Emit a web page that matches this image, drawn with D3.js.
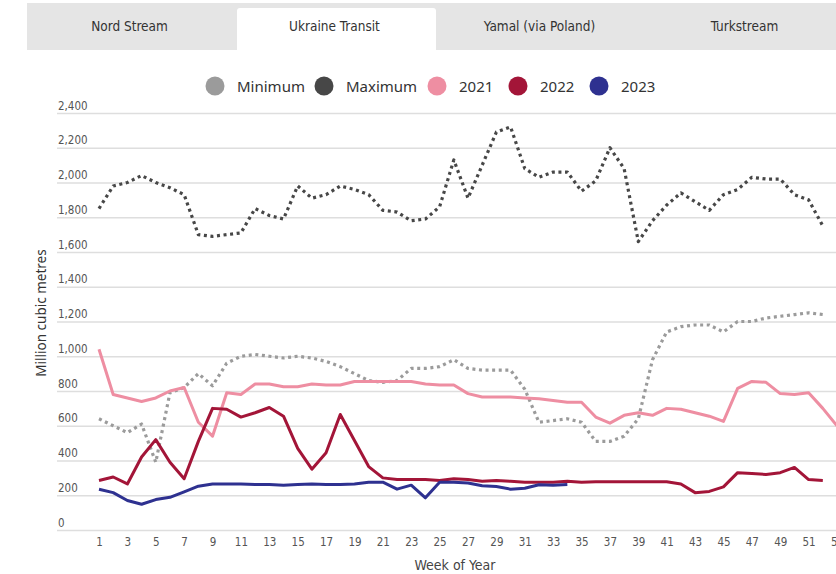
<!DOCTYPE html>
<html>
<head>
<meta charset="utf-8">
<script src="https://cdn.jsdelivr.net/npm/d3@7"></script>
<style>
  html, body { margin: 0; padding: 0; background: #fff; }
  svg { display: block; }
  .cond { font-family: "Liberation Sans Narrow", "DejaVu Sans Condensed", "Roboto Condensed", "Roboto", sans-serif; font-stretch: condensed; }
  .reg { font-family: "Noto Sans", "DejaVu Sans", sans-serif; }
</style>
</head>
<body>
<div id="chart"></div>
<script>
// ---- data ----
const tabs = ["Nord Stream", "Ukraine Transit", "Yamal (via Poland)", "Turkstream"];
const activeTab = "Ukraine Transit";
const seriesNames = ["Minimum", "Maximum", "2021", "2022", "2023"];
const seriesColors = ["#9b9b9b", "#474747", "#ee8ea2", "#a31538", "#2e3190"];
const yTicks = [0, 200, 400, 600, 800, 1000, 1200, 1400, 1600, 1800, 2000, 2200, 2400];
const xTicks = [1,3,5,7,9,11,13,15,17,19,21,23,25,27,29,31,33,35,37,39,41,43,45,47,49,51,53];

const minimum = [640,600,560,610,390,790,820,900,830,960,1000,1010,1000,990,1000,990,970,940,900,860,
  850,860,930,930,940,980,930,920,920,920,810,620,630,640,620,510,510,540,640,980,
  1140,1170,1180,1180,1140,1200,1200,1220,1230,1240,1250,1240];
const maximum = [1850,1980,2000,2040,2000,1970,1930,1700,1690,1700,1710,1850,1810,1790,1980,1910,1930,1980,1960,1930,
  1840,1830,1780,1790,1860,2130,1910,2100,2290,2320,2080,2030,2060,2060,1950,2010,2200,2080,1660,1780,
  1870,1940,1890,1840,1930,1960,2030,2020,2020,1930,1900,1750];
const y2021 = [1040,780,760,740,760,800,820,620,540,790,780,840,840,825,825,840,835,835,855,855,
  855,855,855,840,835,835,785,765,765,765,760,755,745,735,735,650,615,660,675,660,
  700,695,675,655,625,815,855,850,785,780,790,700,600];
const y2022 = [285,305,265,420,520,390,295,510,700,695,650,675,705,655,470,350,445,665,515,365,
  300,290,290,290,285,295,290,280,285,280,275,275,275,280,275,278,278,278,278,278,
  278,265,215,222,248,330,325,320,330,360,290,285];
const y2023 = [235,215,170,148,175,188,220,252,265,265,265,262,262,258,262,265,262,262,265,275,
  275,235,258,185,275,275,270,255,250,235,240,260,258,262];
const seriesValues = [minimum, maximum, y2021, y2022, y2023];

// ---- layout ----
const W = 836, H = 574;
const svg = d3.select("#chart").append("svg").attr("width", W).attr("height", H);

// tabs
const tabX = d3.scaleBand().domain(tabs).range([27, 27 + 205 * 4]);
svg.append("rect").attr("x", 27).attr("y", 3).attr("width", W - 27).attr("height", 47).attr("fill", "#e5e5e5");
tabs.forEach(t => {
  if (t === activeTab) {
    svg.append("path")
      .attr("d", `M${tabX(t) + 5},50 V11 q0,-3 3,-3 H${tabX(t) + 201} q3,0 3,3 V50 Z`)
      .attr("fill", "#fff");
  }
  svg.append("text").attr("class", "cond")
    .attr("x", tabX(t) + tabX.bandwidth() / 2).attr("y", 31)
    .attr("text-anchor", "middle").attr("font-size", 13.5).attr("fill", "#333")
    .text(t);
});

// legend
const legendX = [215, 324, 437, 518, 599];
seriesNames.forEach((n, i) => {
  svg.append("circle").attr("cx", legendX[i]).attr("cy", 86).attr("r", 9.5).attr("fill", seriesColors[i]);
  svg.append("text").attr("class", "reg")
    .attr("x", legendX[i] + 22).attr("y", 91.5)
    .attr("font-size", 15).attr("fill", "#333")
    .text(n);
});

// scales
const x = d3.scaleLinear().domain([1, 53]).range([99, 837]);
const y = d3.scaleLinear().domain([0, 2400]).range([530, 113]);

// y axis + gridlines
const yAxis = d3.axisRight(y).tickValues(yTicks).tickSize(W - 57).tickFormat(d3.format(","));
const gy = svg.append("g").attr("transform", "translate(57,0)").call(yAxis);
gy.select(".domain").remove();
gy.selectAll(".tick line").attr("stroke", "#dedede").attr("stroke-width", 1.5);
gy.selectAll(".tick text").attr("class", "cond").attr("x", 1).attr("dy", "-4")
  .attr("text-anchor", "start").attr("font-size", 11.5).attr("fill", "#555");

// x axis
const xAxis = d3.axisBottom(x).tickValues(xTicks).tickSize(0).tickPadding(8).tickFormat(d3.format("d"));
const gx = svg.append("g").attr("transform", "translate(0,530)").call(xAxis);
gx.select(".domain").remove();
gx.selectAll(".tick text").attr("class", "cond").attr("font-size", 11.5).attr("fill", "#555");

// axis titles
svg.append("text").attr("class", "cond")
  .attr("x", 455).attr("y", 570).attr("text-anchor", "middle")
  .attr("font-size", 14).attr("fill", "#444").text("Week of Year");
svg.append("text").attr("class", "reg")
  .attr("transform", "translate(46,313) rotate(-90)").attr("text-anchor", "middle")
  .attr("font-size", 13.5).attr("fill", "#333").text("Million cubic metres");

// lines
const line = d3.line().x((d, i) => x(i + 1)).y(d => y(d));
seriesValues.forEach((vals, i) => {
  const dotted = i < 2;
  svg.append("path")
    .datum(vals)
    .attr("d", line)
    .attr("fill", "none")
    .attr("stroke", seriesColors[i])
    .attr("stroke-width", dotted ? 3.2 : 3)
    .attr("stroke-dasharray", dotted ? "3,3.6" : null)
    .attr("stroke-linejoin", "round");
});
</script>
</body>
</html>
